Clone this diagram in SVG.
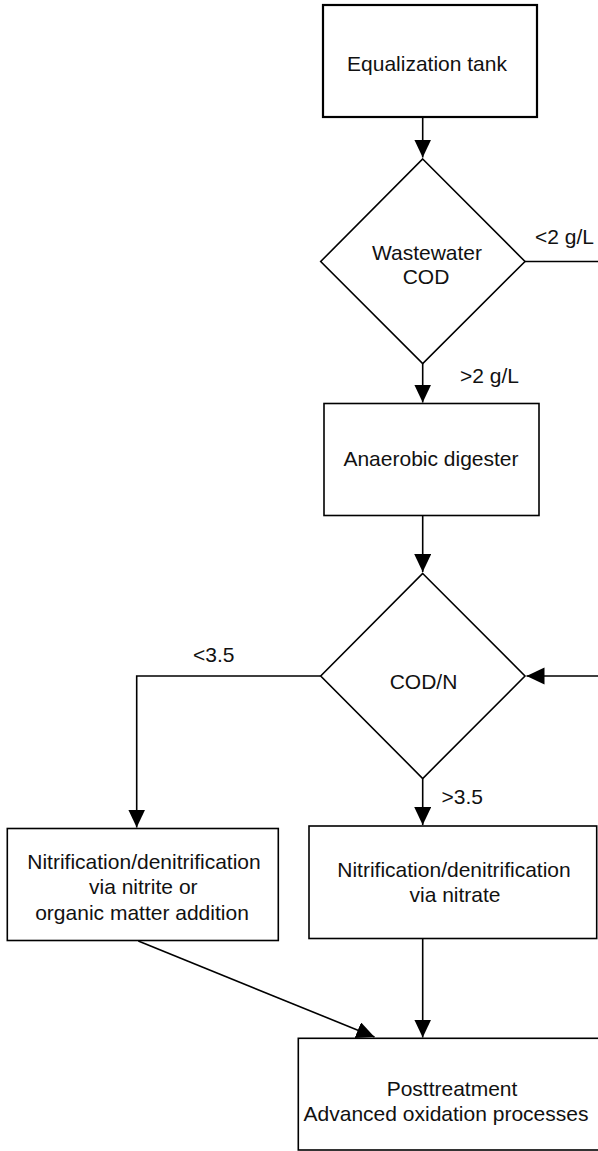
<svg xmlns="http://www.w3.org/2000/svg" width="598" height="1151" viewBox="0 0 598 1151">
  <style>
    .box { fill: #fff; stroke: #000; stroke-width: 1.6; }
    .box-strong { fill: #fff; stroke: #000; stroke-width: 2.2; }
    .decision { fill: #fff; stroke: #000; stroke-width: 1.6; }
    .edge { fill: none; stroke: #000; stroke-width: 1.6; }
    .label { font-family: "Liberation Sans", Arial, Helvetica, sans-serif; font-size: 21px; fill: #111; }
    .mid { text-anchor: middle; }
  </style>
  <defs>
    <marker id="arrow" markerUnits="userSpaceOnUse" markerWidth="19" markerHeight="18" refX="18" refY="8.5" orient="auto">
      <path d="M0,0 L18,8.5 L0,17 z" fill="#000"/>
    </marker>
  </defs>

  <rect width="598" height="1151" fill="#fff"/>

  <!-- connectors -->
  <g id="connectors">
    <path class="edge" d="M422.7,117 V157.5" marker-end="url(#arrow)"/>
    <path class="edge" d="M422.7,363 V402.5" marker-end="url(#arrow)"/>
    <path class="edge" d="M422.7,516 V572" marker-end="url(#arrow)"/>
    <path class="edge" d="M525,261.5 H612 V676 H526.5" marker-end="url(#arrow)"/>
    <path class="edge" d="M320.7,676 H136.7 V827.5" marker-end="url(#arrow)"/>
    <path class="edge" d="M422.7,778.5 V825" marker-end="url(#arrow)"/>
    <path class="edge" d="M138.3,941 L374.5,1037" marker-end="url(#arrow)"/>
    <path class="edge" d="M422.7,939 V1037.5" marker-end="url(#arrow)"/>
    <text class="label" x="535" y="244">&lt;2 g/L</text>
    <text class="label" x="460" y="383">&gt;2 g/L</text>
    <text class="label" x="193" y="661.5">&lt;3.5</text>
    <text class="label" x="441.5" y="804">&gt;3.5</text>
  </g>

  <!-- nodes -->
  <g id="equalization-tank">
    <rect class="box-strong" x="323" y="5" width="214" height="112"/>
    <text class="label mid" x="427" y="71">Equalization tank</text>
  </g>

  <g id="wastewater-cod">
    <polygon class="decision" points="422.7,159 525,261.5 422.7,363.5 320.7,261.5"/>
    <text class="label mid" x="427" y="260">Wastewater</text>
    <text class="label mid" x="426" y="284">COD</text>
  </g>

  <g id="anaerobic-digester">
    <rect class="box" x="324" y="403.5" width="215" height="112"/>
    <text class="label mid" x="431" y="466">Anaerobic digester</text>
  </g>

  <g id="cod-n">
    <polygon class="decision" points="422.7,573.5 525,676 422.7,778.5 320.7,676"/>
    <text class="label mid" x="423.5" y="689">COD/N</text>
  </g>

  <g id="nitrite-route">
    <rect class="box" x="7.3" y="828.5" width="271" height="112"/>
    <text class="label mid" x="144" y="869.3">Nitrification/denitrification</text>
    <text class="label mid" x="143.3" y="894.3">via nitrite or</text>
    <text class="label mid" x="142" y="920">organic matter addition</text>
  </g>

  <g id="nitrate-route">
    <rect class="box" x="309" y="826" width="287.7" height="112.5"/>
    <text class="label mid" x="454" y="876.7">Nitrification/denitrification</text>
    <text class="label mid" x="455" y="901.7">via nitrate</text>
  </g>

  <g id="posttreatment">
    <rect class="box" x="298.3" y="1038.3" width="320" height="111.7"/>
    <text class="label mid" x="452" y="1096">Posttreatment</text>
    <text class="label mid" x="446" y="1121">Advanced oxidation processes</text>
  </g>
</svg>
